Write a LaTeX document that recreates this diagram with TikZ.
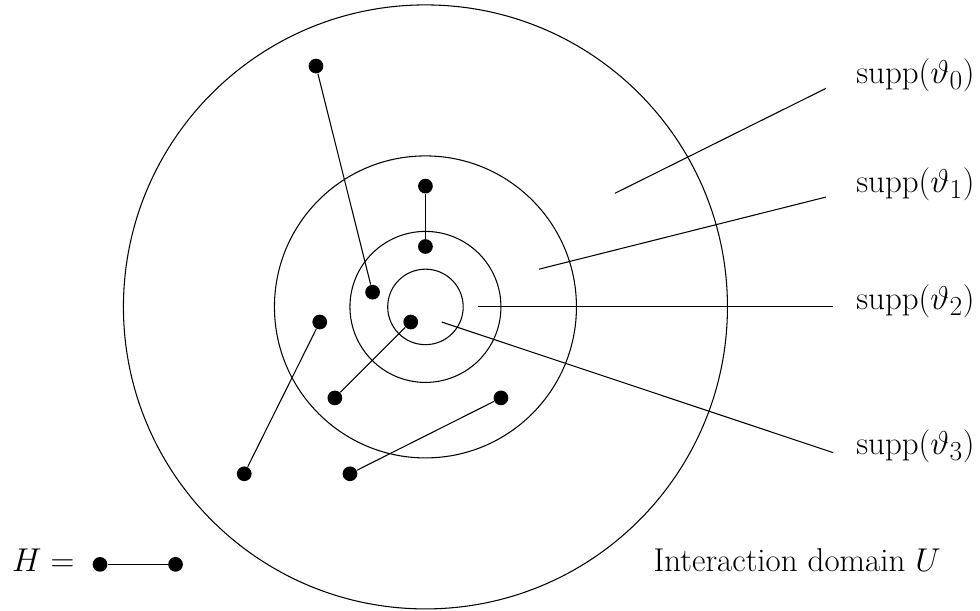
\RequirePackage{fix-cm}
\documentclass[tikz,border=0pt]{standalone}
\begin{document}
\begin{tikzpicture}[line width=0.8pt,
  ring/.style={circle, draw, inner sep=0pt},
  dot/.style={circle, fill=black, inner sep=0pt, minimum size=0.39cm},
  lbl/.style={inner sep=0pt, anchor=base west, font=\fontsize{24.88}{30}\selectfont}]
\useasboundingbox (-11.27,-8.03) rectangle (14.69,8.13);
% rings
\node[ring, minimum size=16cm] (r0) at (0,0) {};
\node[ring, minimum size=8cm] (r1) at (0,0) {};
\node[ring, minimum size=4cm] (r2) at (0,0) {};
\node[ring, minimum size=2cm] (r3) at (0,0) {};
% dots
\node[dot] (a1) at (-2.9,6.38) {};
\node[dot] (a2) at (-1.4,0.39) {};
\node[dot] (b1) at (0,3.2) {};
\node[dot] (b2) at (0,1.6) {};
\node[dot] (c1) at (-2.8,-0.4) {};
\node[dot] (c2) at (-4.8,-4.42) {};
\node[dot] (d1) at (-0.39,-0.4) {};
\node[dot] (d2) at (-2.4,-2.41) {};
\node[dot] (e1) at (2.0,-2.41) {};
\node[dot] (e2) at (-2.0,-4.42) {};
\draw (a1) -- (a2);
\draw (b1) -- (b2);
\draw (c1) -- (c2);
\draw (d1) -- (d2);
\draw (e1) -- (e2);
% leader lines
\coordinate (s0) at (5.02,3.01);
\coordinate (t0) at (10.61,5.79);
\coordinate (s1) at (3.01,1.0);
\coordinate (t1) at (10.61,2.91);
\coordinate (s2) at (1.39,0);
\coordinate (t2) at (10.8,0);
\coordinate (s3) at (0.43,-0.4);
\coordinate (t3) at (10.8,-3.86);
\draw (s0) -- (t0);
\draw (s1) -- (t1);
\draw (s2) -- (t2);
\draw (s3) -- (t3);
% labels
\node[lbl] (l0) at (11.4,5.93) {$\mathrm{supp}(\vartheta_0)$};
\node[lbl] (l1) at (11.4,3.03) {$\mathrm{supp}(\vartheta_1)$};
\node[lbl] (l2) at (11.4,-0.06) {$\mathrm{supp}(\vartheta_2)$};
\node[lbl] (l3) at (11.4,-3.9) {$\mathrm{supp}(\vartheta_3)$};
\node[lbl] (u) at (6.03,-7.0) {Interaction domain $U$};
% H
\node[lbl] (h) at (-10.96,-7.0) {$H =$};
\node[dot] (h1) at (-8.62,-6.82) {};
\node[dot] (h2) at (-6.62,-6.82) {};
\draw (h1) -- (h2);
\end{tikzpicture}
\end{document}
